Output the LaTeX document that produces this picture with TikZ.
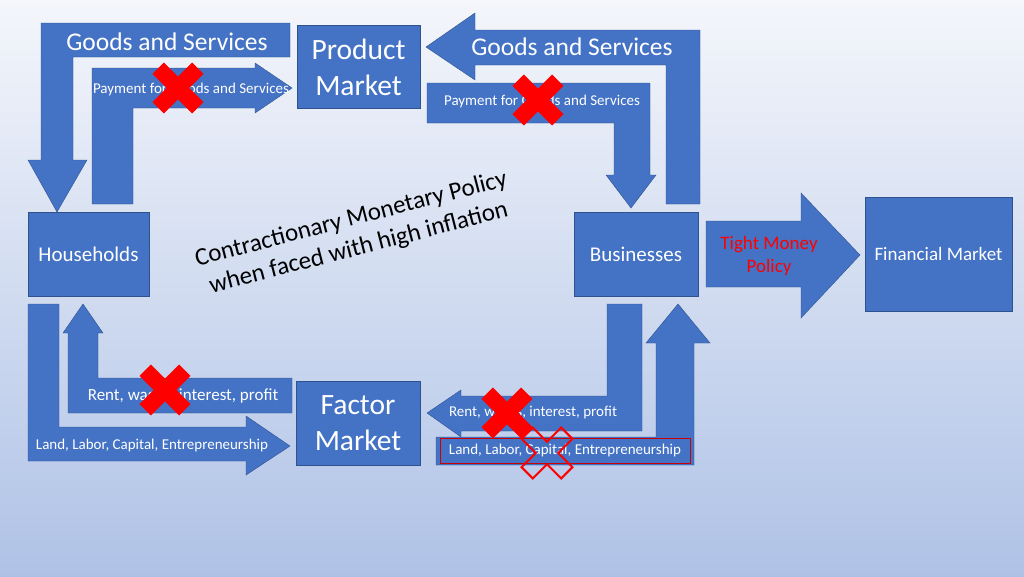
\documentclass[tikz,border=0pt]{standalone}
\usepackage{fontspec}
\setmainfont{Carlito}
\usetikzlibrary{positioning}
\definecolor{boxblue}{HTML}{4472C4}
\definecolor{edgeblue}{HTML}{2F528F}
\definecolor{bgtop}{HTML}{F4F6FB}
\definecolor{bgbot}{HTML}{AFC2E6}
\tikzset{
	market/.style={rectangle, fill=boxblue, draw=edgeblue, text=white, inner sep=0, align=center},
	flow/.style={fill=boxblue, draw=edgeblue},
	lbl/.style={text=white, font=\fontsize{15}{17}\selectfont, inner sep=0},
	biglbl/.style={text=white, font=\fontsize{25.5}{28}\selectfont, inner sep=0}
}
\newcommand{\crossmark}[2]{%
	\begin{scope}[shift={#1}, rotate=45]
		\path[#2] (8,28) -- (-8,28) -- (-8,8) -- (-28,8) -- (-28,-8) -- (-8,-8) -- (-8,-28)
			-- (8,-28) -- (8,-8) -- (28,-8) -- (28,8) -- (8,8) -- cycle;
	\end{scope}}
\begin{document}
\begin{tikzpicture}[x=1pt, y=-1pt]
		\shade[top color=bgtop, bottom color=bgbot] (0,0) rectangle (1024,576);
		\useasboundingbox (0,0) rectangle (1024,576);
		% markets and sectors
		\node[market, minimum width=123, minimum height=83, font=\fontsize{29.5}{36}\selectfont] (product) at (358.5,67) {Product\\Market};
		\node[market, minimum width=121, minimum height=84, font=\fontsize{21}{23}\selectfont] (house) at (88.5,254) {Households};
		\node[market, minimum width=124, minimum height=84, font=\fontsize{21}{23}\selectfont] (business) at (636,254) {Businesses};
		\node[market, minimum width=124, minimum height=84, font=\fontsize{29.5}{36}\selectfont] (factor) at (358,423) {Factor\\Market};
		\node[market, minimum width=147, minimum height=114, font=\fontsize{19}{22}\selectfont] (finance) at (938.5,254) {Financial Market};
		% top flows
		\path[flow] (41,23) -- (290,23) -- (290,57) -- (73,57) -- (73,160) -- (87,160) -- (57,212)
			-- (28,160) -- (41,160) -- cycle;
		\node[biglbl] (goodsL) at (167,42) {Goods and Services};
		\path[flow] (92,204) -- (92,68) -- (255,68) -- (255,63) -- (292,88) -- (255,113) -- (255,108)
			-- (133,108) -- (133,204) -- cycle;
		\node[lbl] (payL) at (191,89) {Payment for Goods and Services};
		\path[flow] (426,47) -- (475,13) -- (475,30) -- (700,30) -- (700,204) -- (666,204)
			-- (666,65) -- (475,65) -- (475,80) -- cycle;
		\node[biglbl] (goodsR) at (572,47) {Goods and Services};
		\path[flow] (427,83) -- (650,83) -- (650,175) -- (656,175) -- (631,208) -- (606,175)
			-- (614,175) -- (614,123) -- (427,123) -- cycle;
		\node[lbl] (payR) at (542,101) {Payment for Goods and Services};
		% bottom flows
		\path[flow] (28,304) -- (59,304) -- (59,427) -- (246,427) -- (246,416) -- (290,446)
			-- (246,475) -- (246,461) -- (28,461) -- cycle;
		\node[lbl] (landL) at (152,445) {Land, Labor, Capital, Entrepreneurship};
		\path[flow] (83,304) -- (103,333) -- (98,333) -- (98,378) -- (292,378) -- (292,413)
			-- (68,413) -- (68,333) -- (63,333) -- cycle;
		\node[lbl, font=\fontsize{17}{19}\selectfont] (rentL) at (183,396) {Rent, wages, interest, profit};
		\path[flow] (427,413) -- (461,390) -- (461,396) -- (607,396) -- (607,304) -- (642,304)
			-- (642,431) -- (461,431) -- (461,437) -- cycle;
		\node[lbl] (rentR) at (533,413) {Rent, wages, interest, profit};
		\path[flow] (436,437) -- (656,437) -- (656,343) -- (646,343) -- (678,304) -- (710,343)
			-- (694,343) -- (694,465) -- (436,465) -- cycle;
		\draw[red!80!black] (440,438) rectangle (690,463);
		\node[lbl] (landR) at (565,450) {Land, Labor, Capital, Entrepreneurship};
		% policy arrow
		\path[flow] (706,221) -- (801,221) -- (801,193) -- (860,255) -- (801,318) -- (801,287)
			-- (706,287) -- cycle;
		\node[text=red, align=center, font=\fontsize{19}{23}\selectfont, inner sep=0] (tight) at (769,256) {Tight Money\\Policy};
		% title
		\node[rotate=14.5, align=center, font=\fontsize{25}{30}\selectfont, inner sep=0] (title) at (355,234)
			{Contractionary Monetary Policy\\when faced with high inflation};
		% crosses
		\crossmark{(178,88)}{fill=red}
		\crossmark{(538,100)}{fill=red}
		\crossmark{(165,390)}{fill=red}
		\crossmark{(507,413)}{fill=red}
		\crossmark{(547,453)}{draw=red, line width=2pt}
	\end{tikzpicture}
\end{document}
